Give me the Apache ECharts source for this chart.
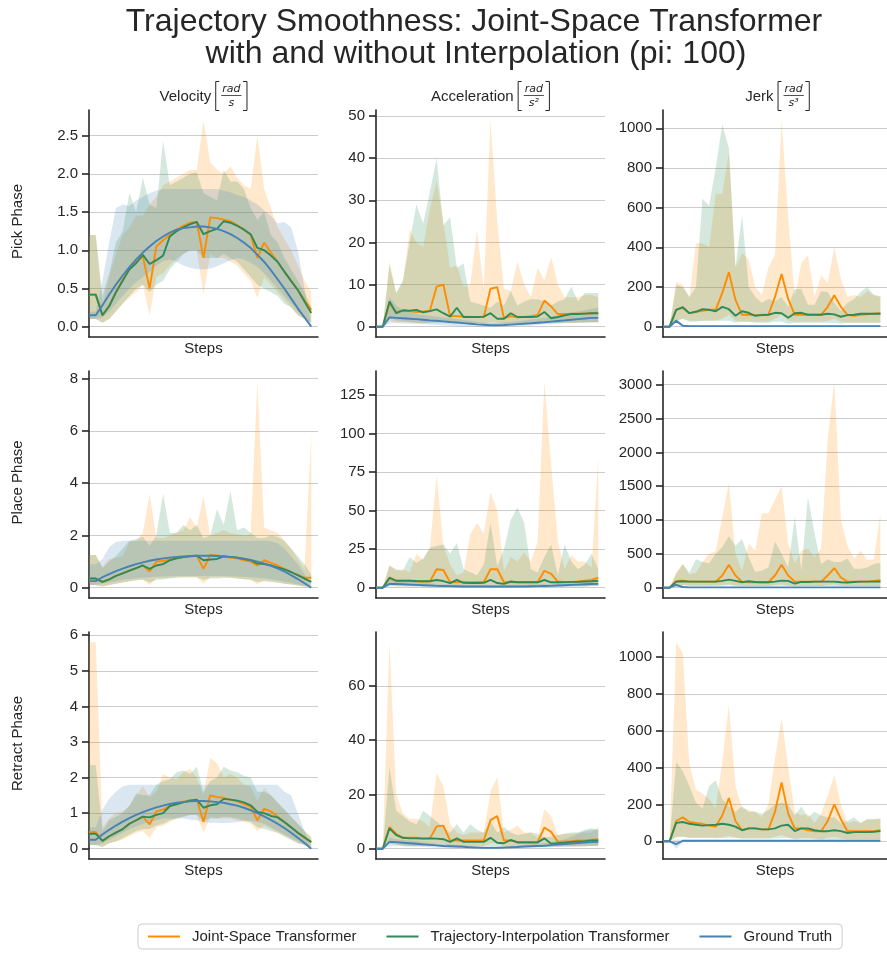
<!DOCTYPE html>
<html><head><meta charset="utf-8">
<script src="https://cdn.jsdelivr.net/npm/echarts@6/dist/echarts.min.js"></script>
<style>html,body{margin:0;padding:0;background:#fff}#c{width:887px;height:954px}</style>
</head><body><div id="c"></div>
<script>
// ---------------- DATA ----------------
const methodNames = ['Joint-Space Transformer', 'Trajectory-Interpolation Transformer', 'Ground Truth'];
const rowNames = ['Pick Phase', 'Place Phase', 'Retract Phase'];
const colNames = ['Velocity', 'Acceleration', 'Jerk'];
const colUnitNum = 'rad';
const colUnitDen = ['s', 's²', 's³'];
const stepCats = ['0','1','2','3','4','5','6','7','8','9','10','11','12','13','14','15','16','17','18','19','20','21','22','23','24','25','26','27','28','29','30','31','32','33','34'];

// Pick - velocity
const velPickJS   = [0.42,0.42,0.15,0.27,0.45,0.62,0.75,0.85,0.92,0.50,1.05,1.13,1.20,1.27,1.32,1.36,1.37,0.90,1.43,1.42,1.40,1.38,1.33,1.27,1.20,0.90,1.10,0.97,0.85,0.72,0.60,0.48,0.35,0.22];
const velPickJSHi = [1.20,1.20,0.30,0.65,0.95,1.20,1.30,1.45,1.45,1.60,1.70,1.85,1.90,1.95,2.00,2.05,2.05,2.70,2.15,2.05,2.00,2.10,1.95,1.85,1.80,2.50,1.80,1.55,1.30,1.15,1.00,0.80,0.60,0.45];
const velPickJSLo = [0.10,0.10,0.05,0.10,0.20,0.30,0.38,0.45,0.55,0.15,0.65,0.70,0.80,0.90,0.95,1.00,1.00,0.42,0.95,0.90,0.90,0.85,0.80,0.70,0.60,0.38,0.65,0.55,0.45,0.35,0.25,0.15,0.10,0.05];
const velPickTI   = [0.42,0.42,0.15,0.27,0.45,0.60,0.75,0.83,0.94,0.82,0.87,0.93,1.18,1.25,1.30,1.34,1.37,1.21,1.25,1.28,1.38,1.36,1.32,1.27,1.21,1.03,1.00,0.93,0.85,0.72,0.60,0.48,0.33,0.18];
const velPickTIHi = [1.20,1.20,0.40,0.70,1.10,1.25,1.75,1.50,1.95,1.60,1.55,2.43,1.85,1.90,1.95,2.00,2.02,1.75,1.70,1.65,2.05,1.90,1.90,1.80,1.55,1.40,1.50,1.20,1.10,0.90,0.75,0.60,0.45,0.25];
const velPickTILo = [0.10,0.10,0.05,0.10,0.20,0.30,0.40,0.50,0.55,0.45,0.55,0.60,0.75,0.85,0.95,1.00,1.00,0.90,0.90,0.90,0.95,0.90,0.85,0.75,0.65,0.55,0.50,0.45,0.40,0.30,0.25,0.15,0.10,0.05];
const velPickGT   = [0.15,0.15,0.28,0.42,0.55,0.67,0.78,0.88,0.97,1.05,1.12,1.18,1.23,1.27,1.29,1.30,1.31,1.31,1.30,1.28,1.25,1.21,1.16,1.10,1.03,0.94,0.85,0.74,0.62,0.50,0.37,0.24,0.12,0.00];
const velPickGTHi = [0.20,0.20,0.60,1.10,1.55,1.60,1.58,1.65,1.70,1.75,1.78,1.80,1.80,1.80,1.80,1.80,1.80,1.80,1.80,1.80,1.78,1.76,1.72,1.70,1.65,1.60,1.52,1.45,1.35,1.37,1.30,1.00,0.50,0.00];
const velPickGTLo = [0.10,0.10,0.12,0.20,0.30,0.40,0.50,0.58,0.65,0.72,0.80,0.86,0.88,0.85,0.80,0.77,0.75,0.75,0.76,0.79,0.83,0.87,0.90,0.88,0.84,0.78,0.70,0.60,0.50,0.40,0.30,0.20,0.10,0.00];

// Pick - acceleration
const accPickJS   = [0,0,5.5,3.5,3.8,3.7,3.5,3.6,3.8,9.5,10.0,2.5,2.5,2.4,2.3,2.3,2.3,9.0,9.4,2.0,2.5,2.2,2.3,2.5,2.8,6.2,4.8,3.0,3.0,3.1,3.1,3.1,3.2,3.3];
const accPickJSHi = [0,0,15.5,8,10.5,23,20,19,28,34.5,25,14,14.5,9.5,10,23,9,49,25,9,8.5,15.5,10,7,14,11,16.5,10,7,7,7,7.5,7.5,7];
const accPickJSLo = [0,0,1.5,1,1,1,0.8,0.8,1,1.2,1.5,0.8,0.8,0.8,0.8,0.8,0.8,1,1,0.6,0.8,0.8,0.8,0.8,0.8,1,1.2,0.9,0.9,0.9,0.9,1,1,1];
const accPickTI   = [0,0,6.0,3.2,3.9,3.8,4.0,3.4,3.7,4.1,3.2,2.4,4.5,2.3,2.3,2.3,2.4,3.2,1.9,1.9,3.2,2.3,2.3,2.3,2.4,3.5,2.0,2.3,2.7,3.0,3.0,3.1,3.2,3.2];
const accPickTIHi = [0,0,14.5,8,11,20,29,24.5,32,40,24,26,14,15,6,5.5,5,4.5,6,5,8.5,5,6,6.5,6.5,6,5,6,6.5,9.5,6,8,8,8];
const accPickTILo = [0,0,2,1.5,1.3,1.2,1,0.9,0.9,0.9,0.9,0.8,0.8,0.8,0.7,0.7,0.7,0.7,0.6,0.6,0.6,0.7,0.7,0.8,0.8,0.8,0.8,0.9,1,1,1,1,1,1];
const accPickGT   = [0,0,2.2,2.1,2.0,1.9,1.8,1.65,1.5,1.4,1.25,1.1,1.0,0.85,0.7,0.55,0.45,0.35,0.35,0.4,0.5,0.6,0.7,0.8,0.95,1.05,1.2,1.35,1.5,1.65,1.8,1.95,2.1,2.1];
const accPickGTHi = [0,0,7,5,4,3.5,3,2.8,2.6,2.4,2.2,2,1.8,1.6,1.4,1.2,1,0.9,0.9,1,1.1,1.3,1.5,1.7,1.9,2.1,2.4,2.7,3,3.3,3.6,3.9,4.2,4.5];
const accPickGTLo = [0,0,0.8,0.8,0.8,0.7,0.7,0.6,0.5,0.4,0.3,0.2,0.1,0.1,0.1,0.05,0.05,0.05,0.05,0.05,0.1,0.1,0.2,0.3,0.4,0.5,0.6,0.7,0.8,0.9,1.0,1.0,1.1,1.1];

// Pick - jerk
const jerkPickJS   = [0,0,85,95,68,75,80,85,85,170,275,135,60,60,58,60,60,150,265,140,60,60,60,60,60,100,158,100,60,55,60,62,65,68];
const jerkPickJSHi = [0,0,225,210,150,420,420,400,670,670,880,300,370,340,200,160,300,360,1040,550,150,320,360,150,260,220,400,240,150,160,150,180,160,150];
const jerkPickJSLo = [0,0,30,40,30,30,30,30,30,40,60,30,25,25,25,25,25,40,60,30,25,25,25,25,25,30,40,25,20,20,20,20,20,20];
const jerkPickTI   = [0,0,85,98,68,75,88,85,78,100,88,55,78,70,55,58,60,70,68,45,68,70,60,60,60,65,62,50,58,60,65,65,65,65];
const jerkPickTIHi = [0,0,210,200,150,200,645,610,800,1020,900,300,560,200,150,120,140,130,150,100,190,190,110,110,180,175,120,80,120,140,175,200,160,155];
const jerkPickTILo = [0,0,30,40,25,25,30,30,30,30,30,20,25,25,20,20,20,25,25,15,20,20,20,20,20,20,20,15,20,20,20,20,20,20];
const jerkPickGT   = [0,0,30,5,3,3,3,3,3,3,3,3,3,3,3,3,3,3,3,3,3,3,3,3,3,3,3,3,3,3,3,3,3,3];
const jerkPickGTHi = [0,0,40,12,6,6,6,6,6,6,6,6,6,6,6,6,6,6,6,6,6,6,6,6,6,6,6,6,6,6,6,6,6,6];
const jerkPickGTLo = [0,0,20,0,0,0,0,0,0,0,0,0,0,0,0,0,0,0,0,0,0,0,0,0,0,0,0,0,0,0,0,0,0,0];

// Place - velocity
const velPlaceJS   = [0.35,0.35,0.22,0.32,0.45,0.55,0.65,0.75,0.85,0.62,1.00,1.02,1.08,1.12,1.17,1.20,1.22,0.72,1.25,1.23,1.20,1.15,1.12,1.05,1.00,0.85,1.05,0.95,0.85,0.72,0.60,0.48,0.38,0.38];
const velPlaceJSHi = [1.25,1.25,0.80,1.10,1.15,1.20,1.75,1.80,2.10,3.60,1.90,1.90,2.00,2.10,2.20,2.70,2.30,3.50,2.00,2.10,2.20,2.10,2.05,2.00,2.05,7.90,2.30,2.20,2.10,1.80,1.50,1.10,0.70,5.90];
const velPlaceJSLo = [0.10,0.10,0.05,0.10,0.15,0.20,0.25,0.28,0.30,0.10,0.35,0.35,0.38,0.40,0.40,0.40,0.40,0.15,0.40,0.40,0.40,0.38,0.35,0.32,0.30,0.12,0.28,0.25,0.20,0.15,0.12,0.08,0.05,0.05];
const velPlaceTI   = [0.35,0.35,0.22,0.32,0.45,0.55,0.65,0.75,0.85,0.72,0.85,0.90,1.05,1.12,1.17,1.20,1.22,1.05,1.08,1.10,1.20,1.18,1.15,1.10,1.05,0.92,0.90,0.85,0.78,0.70,0.60,0.48,0.35,0.22];
const velPlaceTIHi = [1.25,1.25,0.75,1.00,1.20,1.50,1.80,1.85,1.95,1.60,2.00,3.60,2.10,2.10,2.40,2.20,2.40,1.90,2.00,3.00,2.40,3.70,2.20,2.30,2.10,1.90,1.90,2.00,1.95,1.80,1.50,1.20,0.90,0.50];
const velPlaceTILo = [0.10,0.10,0.05,0.10,0.15,0.20,0.25,0.28,0.30,0.20,0.30,0.32,0.35,0.38,0.40,0.40,0.40,0.30,0.35,0.35,0.38,0.38,0.35,0.32,0.30,0.22,0.25,0.22,0.20,0.15,0.12,0.08,0.05,0.05];
const velPlaceGT   = [0.25,0.25,0.40,0.52,0.63,0.73,0.82,0.90,0.97,1.03,1.08,1.12,1.15,1.18,1.20,1.21,1.22,1.22,1.22,1.21,1.20,1.18,1.15,1.11,1.06,1.00,0.93,0.84,0.74,0.62,0.48,0.33,0.17,0.00];
const velPlaceGTHi = [0.90,0.90,1.10,1.55,1.75,1.80,1.80,1.80,1.80,1.80,1.80,1.80,1.80,1.80,1.80,1.80,1.80,1.80,1.80,1.80,1.80,1.80,1.80,1.80,1.80,1.80,1.80,1.78,1.70,1.50,1.20,0.90,0.50,0.00];
const velPlaceGTLo = [0.10,0.10,0.15,0.20,0.25,0.30,0.33,0.36,0.38,0.40,0.42,0.43,0.44,0.45,0.45,0.45,0.45,0.45,0.45,0.45,0.45,0.44,0.43,0.42,0.40,0.38,0.35,0.32,0.28,0.23,0.18,0.12,0.06,0.00];

// Place - acceleration
const accPlaceJS   = [0,0,6,4.5,4.5,4.5,4,4,4,12,11.5,3.5,3.5,3.5,3.5,3.5,3.5,12,12,3.5,3.5,3.5,3.5,3.5,3.5,11,9,4,3.8,3.8,4,4.5,5,6.5];
const accPlaceJSHi = [0,0,15,11,12,10,22,18,26,73,27,15,8,10,35,42,35,62,50,11,20,17,23,17,30,134,80,30,12,21,17,17,13,85];
const accPlaceJSLo = [0,0,1.5,1,1,1,1,1,1,2,2,1,1,1,1,1,1,2,2,1,1,1,1,1,1,2,2,1,1,1,1,1,1.5,1.5];
const accPlaceTI   = [0,0,6.5,4.5,4.5,4.5,4.3,4.2,4.2,5.0,4.3,3.0,5.0,3.2,3.0,3.0,3.2,5.0,3.0,2.5,4.0,3.5,3.5,3.5,3.5,5.0,3.5,3.5,3.6,3.8,3.8,4.0,4.2,4.5];
const accPlaceTIHi = [0,0,14,12,11,20,16,19,26,27,28,22,29,12,10,8,15,42,14,25,44,52,42,12,10,20,28,8,28,17,12,15,22,12];
const accPlaceTILo = [0,0,2,1.5,1.5,1.2,1.2,1.2,1.2,1.2,1.2,1,1,1,1,1,1,1,1,1,1,1,1,1,1,1,1,1,1,1,1,1,1.2,1.2];
const accPlaceGT   = [0,0,2.5,2.4,2.2,2.0,1.8,1.6,1.4,1.2,1.1,1.0,0.9,0.8,0.8,0.8,0.8,0.8,0.8,0.8,0.8,0.8,0.8,0.9,1.0,1.1,1.2,1.4,1.6,1.8,2.0,2.2,2.4,2.5];
const accPlaceGTHi = [0,0,6,5,4.5,4,3.5,3,2.8,2.5,2.3,2.1,2,1.9,1.9,1.9,1.9,1.9,1.9,1.9,1.9,1.9,1.9,2,2.2,2.4,2.6,2.9,3.2,3.5,3.9,4.3,4.7,5];
const accPlaceGTLo = [0,0,0.8,0.8,0.7,0.6,0.5,0.4,0.3,0.2,0.2,0.1,0.1,0.1,0.1,0.1,0.1,0.1,0.1,0.1,0.1,0.1,0.1,0.1,0.2,0.2,0.3,0.4,0.5,0.6,0.7,0.8,0.9,1.0];

// Place - jerk
const jerkPlaceJS   = [0,0,95,105,90,90,90,90,90,180,340,180,90,80,80,80,80,180,340,180,90,90,90,90,90,180,290,150,90,90,90,90,100,110];
const jerkPlaceJSHi = [0,0,230,350,200,220,380,500,540,1050,1550,500,250,650,550,1100,1100,1300,1500,650,360,550,580,450,580,2200,3050,1000,620,430,550,410,420,1100];
const jerkPlaceJSLo = [0,0,30,40,30,30,30,30,30,40,50,30,25,25,25,25,25,40,50,30,25,25,25,25,25,40,50,30,25,25,25,25,25,30];
const jerkPlaceTI   = [0,0,90,95,90,90,90,90,90,100,120,100,80,95,85,80,80,90,105,100,60,85,85,90,90,90,90,80,75,85,90,90,90,90];
const jerkPlaceTIHi = [0,0,200,350,220,420,380,360,500,600,760,620,720,450,230,250,300,680,500,300,1050,250,1340,800,350,420,380,380,430,280,280,300,350,370];
const jerkPlaceTILo = [0,0,30,35,30,30,30,30,30,30,35,30,25,25,25,25,25,30,30,25,20,25,25,25,25,25,25,25,20,25,25,25,25,25];
const jerkPlaceGT   = [0,0,40,10,5,4,4,4,4,4,4,4,4,4,4,4,4,4,4,4,4,4,4,4,4,4,4,4,4,4,4,4,4,4];
const jerkPlaceGTHi = [0,0,60,20,10,8,8,8,8,8,8,8,8,8,8,8,8,8,8,8,8,8,8,8,8,8,8,8,8,8,8,8,8,8];
const jerkPlaceGTLo = [0,0,20,0,0,0,0,0,0,0,0,0,0,0,0,0,0,0,0,0,0,0,0,0,0,0,0,0,0,0,0,0,0,0];

// Retract - velocity
const velRetractJS   = [0.47,0.47,0.22,0.35,0.45,0.55,0.70,0.80,0.90,0.68,1.05,1.10,1.20,1.27,1.32,1.36,1.38,0.75,1.50,1.45,1.43,1.38,1.33,1.25,1.18,0.80,1.12,1.05,0.90,0.75,0.60,0.45,0.30,0.20];
const velRetractJSHi = [5.80,5.80,0.60,0.85,1.00,1.05,1.20,1.50,1.75,1.45,1.60,2.10,2.00,1.95,2.15,2.25,2.00,1.50,2.55,2.40,2.00,2.10,2.00,1.80,1.75,1.35,1.70,1.50,1.30,1.10,0.90,0.70,0.50,0.35];
const velRetractJSLo = [0.10,0.10,0.05,0.15,0.20,0.25,0.35,0.45,0.50,0.30,0.60,0.65,0.75,0.85,0.90,0.95,0.95,0.45,0.90,0.85,0.85,0.85,0.80,0.75,0.70,0.50,0.65,0.55,0.45,0.35,0.25,0.15,0.10,0.05];
const velRetractTI   = [0.42,0.42,0.22,0.35,0.45,0.55,0.70,0.80,0.90,0.88,0.95,1.00,1.20,1.25,1.30,1.35,1.38,1.15,1.22,1.25,1.40,1.38,1.35,1.30,1.22,1.03,1.00,0.92,0.88,0.75,0.60,0.45,0.32,0.18];
const velRetractTIHi = [2.35,2.35,0.50,0.80,0.90,1.00,1.20,1.55,1.50,1.50,1.80,1.90,1.95,2.15,2.20,2.10,2.30,1.60,1.90,2.00,2.30,2.20,2.15,2.05,2.00,1.60,1.60,1.50,1.30,1.10,0.90,0.70,0.50,0.30];
const velRetractTILo = [0.10,0.10,0.05,0.15,0.20,0.30,0.40,0.50,0.55,0.55,0.65,0.70,0.80,0.85,0.90,0.95,0.95,0.80,0.85,0.85,0.90,0.88,0.85,0.80,0.75,0.60,0.55,0.50,0.45,0.35,0.25,0.15,0.10,0.05];
const velRetractGT   = [0.25,0.25,0.40,0.53,0.65,0.76,0.86,0.95,1.03,1.10,1.16,1.21,1.26,1.29,1.31,1.33,1.34,1.34,1.33,1.31,1.29,1.25,1.21,1.15,1.08,1.00,0.91,0.81,0.70,0.58,0.45,0.31,0.16,0.00];
const velRetractGTHi = [0.60,0.60,1.10,1.40,1.60,1.75,1.80,1.80,1.80,1.80,1.80,1.80,1.80,1.80,1.80,1.80,1.80,1.80,1.80,1.80,1.80,1.80,1.80,1.80,1.80,1.80,1.80,1.80,1.80,1.60,1.50,1.00,0.50,0.00];
const velRetractGTLo = [0.10,0.10,0.15,0.25,0.35,0.45,0.55,0.62,0.70,0.75,0.80,0.85,0.85,0.85,0.85,0.82,0.80,0.75,0.73,0.72,0.72,0.73,0.75,0.78,0.78,0.75,0.70,0.60,0.50,0.40,0.30,0.20,0.10,0.00];

// Retract - acceleration
const accRetractJS   = [0,0,8,5.5,4,4,4,3.8,3.8,8.2,8.5,3,3,3,3,3,3,10.5,12,3,3,2.5,2.5,2.5,2.5,7.8,6.2,2.5,2.7,2.8,3,3,3.2,3.5];
const accRetractJSHi = [0,0,76,20,13,11,11,10,8,28,23,9,6,5,6,6,6,21,26.5,6,7,8.5,6,6,4,14.5,12,5,5.5,5.5,6,6,6,8];
const accRetractJSLo = [0,0,2,1.5,1.2,1,1,1,1,2,2,1,0.8,0.8,0.8,0.8,0.8,2,2,0.8,0.8,0.8,0.8,0.8,0.8,1.5,1.5,0.8,0.8,0.8,0.8,0.8,1,1];
const accRetractTI   = [0,0,7.5,5,4,3.8,3.8,3.7,3.8,3.7,3.5,2.5,3.8,2.5,2.5,2.5,2.5,4,2.2,2.0,3.2,2.3,2.3,2.3,2.3,3.8,1.8,2,2.2,2.5,2.7,2.8,3,3];
const accRetractTIHi = [0,0,30,14,12,10,9,14,12,10,8,6,9,6,9,7,6,10,6,8,6,5,5.5,6,5.5,4,4.5,5,5.5,6,6,7,7.5,7];
const accRetractTILo = [0,0,2,1.5,1.2,1,1,1,1,1,0.8,0.8,0.8,0.8,0.8,0.8,0.8,0.8,0.7,0.7,0.7,0.7,0.7,0.7,0.7,0.7,0.7,0.8,0.8,0.8,0.8,0.9,1,1];
const accRetractGT   = [0,0,2.5,2.4,2.2,2.0,1.8,1.6,1.4,1.2,1.0,0.9,0.8,0.7,0.5,0.4,0.3,0.3,0.3,0.4,0.5,0.6,0.8,0.9,1.0,1.1,1.3,1.5,1.7,1.9,2.1,2.3,2.4,2.5];
const accRetractGTHi = [0,0,4,3.5,3.2,3,2.8,2.5,2.2,2,1.8,1.6,1.4,1.2,1,0.9,0.8,0.8,0.8,0.9,1,1.2,1.4,1.6,1.8,2.1,2.5,3,3.5,4.5,5.5,6.5,7,7];
const accRetractGTLo = [0,0,1,1,0.9,0.8,0.7,0.6,0.5,0.4,0.3,0.2,0.1,0.1,0.1,0.05,0.05,0.05,0.05,0.05,0.1,0.1,0.2,0.3,0.4,0.5,0.6,0.7,0.8,0.9,1,1.1,1.2,1.2];

// Retract - jerk
const jerkRetractJS   = [0,0,110,130,105,100,95,85,80,140,235,110,60,70,70,65,65,160,320,150,70,70,60,55,55,110,200,120,55,55,55,55,55,60];
const jerkRetractJSHi = [0,0,1080,1020,420,280,260,230,180,430,740,300,180,170,160,130,200,450,670,400,160,140,150,100,150,250,360,200,100,110,100,120,120,120];
const jerkRetractJSLo = [0,0,20,25,20,20,20,20,15,20,30,20,15,15,15,15,15,25,35,20,15,15,15,10,10,20,25,15,10,10,10,10,10,10];
const jerkRetractTI   = [0,0,100,105,95,90,85,88,90,95,90,80,60,70,70,65,65,70,85,90,55,70,70,60,55,55,60,55,45,50,50,50,52,55];
const jerkRetractTIHi = [0,0,430,380,300,210,180,300,330,230,190,160,190,160,160,150,170,200,210,200,140,190,130,160,140,130,130,100,110,130,100,120,120,125];
const jerkRetractTILo = [0,0,25,25,20,20,20,20,20,20,20,20,15,15,15,15,15,15,20,20,10,15,15,15,10,10,10,10,10,10,10,10,10,10];
const jerkRetractGT   = [0,0,-15,3,3,3,3,3,3,3,3,3,3,3,3,3,3,3,3,3,3,3,3,3,3,3,3,3,3,3,3,3,3,3];
const jerkRetractGTHi = [0,0,10,8,6,6,6,6,6,6,6,6,6,6,6,6,6,6,6,6,6,6,6,6,6,6,6,6,6,6,6,6,6,6];
const jerkRetractGTLo = [0,0,-40,-5,0,0,0,0,0,0,0,0,0,0,0,0,0,0,0,0,0,0,0,0,0,0,0,0,0,0,0,0,0,0];

// y tick labels per panel (row-major)
const velPickTicks = ['0.0','0.5','1.0','1.5','2.0','2.5'];
const accPickTicks = ['0','10','20','30','40','50'];
const jerkPickTicks = ['0','200','400','600','800','1000'];
const velPlaceTicks = ['0','2','4','6','8'];
const accPlaceTicks = ['0','25','50','75','100','125'];
const jerkPlaceTicks = ['0','500','1000','1500','2000','2500','3000'];
const velRetractTicks = ['0','1','2','3','4','5','6'];
const accRetractTicks = ['0','20','40','60'];
const jerkRetractTicks = ['0','200','400','600','800','1000'];

// ---------------- BUILD ----------------
const panels = [
  [velPickJS,velPickJSLo,velPickJSHi,velPickTI,velPickTILo,velPickTIHi,velPickGT,velPickGTLo,velPickGTHi,velPickTicks],
  [accPickJS,accPickJSLo,accPickJSHi,accPickTI,accPickTILo,accPickTIHi,accPickGT,accPickGTLo,accPickGTHi,accPickTicks],
  [jerkPickJS,jerkPickJSLo,jerkPickJSHi,jerkPickTI,jerkPickTILo,jerkPickTIHi,jerkPickGT,jerkPickGTLo,jerkPickGTHi,jerkPickTicks],
  [velPlaceJS,velPlaceJSLo,velPlaceJSHi,velPlaceTI,velPlaceTILo,velPlaceTIHi,velPlaceGT,velPlaceGTLo,velPlaceGTHi,velPlaceTicks],
  [accPlaceJS,accPlaceJSLo,accPlaceJSHi,accPlaceTI,accPlaceTILo,accPlaceTIHi,accPlaceGT,accPlaceGTLo,accPlaceGTHi,accPlaceTicks],
  [jerkPlaceJS,jerkPlaceJSLo,jerkPlaceJSHi,jerkPlaceTI,jerkPlaceTILo,jerkPlaceTIHi,jerkPlaceGT,jerkPlaceGTLo,jerkPlaceGTHi,jerkPlaceTicks],
  [velRetractJS,velRetractJSLo,velRetractJSHi,velRetractTI,velRetractTILo,velRetractTIHi,velRetractGT,velRetractGTLo,velRetractGTHi,velRetractTicks],
  [accRetractJS,accRetractJSLo,accRetractJSHi,accRetractTI,accRetractTILo,accRetractTIHi,accRetractGT,accRetractGTLo,accRetractGTHi,accRetractTicks],
  [jerkRetractJS,jerkRetractJSLo,jerkRetractJSHi,jerkRetractTI,jerkRetractTILo,jerkRetractTIHi,jerkRetractGT,jerkRetractGTLo,jerkRetractGTHi,jerkRetractTicks]
];

const FONT = "'Liberation Sans', Arial, Helvetica, sans-serif";
const INK = '#262626';
const lineColors = ['#ff8c00', '#2e8b57', '#4682b4'];
const bandColors = ['rgba(255,140,0,0.2)', 'rgba(46,139,87,0.2)', 'rgba(70,130,180,0.2)'];
const colLeft = [89, 376, 663];
const rowTop = [110, 371, 632];
const PW = 229, PH = 227;

const grids = [], xAxes = [], yAxes = [], series = [];
panels.forEach((p, k) => {
  const r = Math.floor(k / 3), c = k % 3;
  grids.push({ left: colLeft[c], top: rowTop[r], width: PW, height: PH });
  xAxes.push({
    type: 'category', gridIndex: k, data: stepCats, boundaryGap: false,
    axisLine: { show: true, onZero: false, lineStyle: { color: INK, width: 1.6 } },
    axisTick: { show: false }, axisLabel: { show: false }, splitLine: { show: false },
    name: 'Steps', nameLocation: 'middle', nameGap: 4,
    nameTextStyle: { fontSize: 15, color: INK, fontFamily: FONT, verticalAlign: 'top' }
  });
  const all = [].concat(p[0], p[1], p[2], p[3], p[4], p[5], p[6], p[7], p[8]);
  const dmin = Math.min(...all), dmax = Math.max(...all);
  const span = dmax - dmin;
  const tickLabels = p[9];
  const tickVals = tickLabels.map(Number);
  yAxes.push({
    type: 'value', gridIndex: k, min: dmin - 0.05 * span, max: dmax + 0.05 * span,
    axisLine: { show: true, onZero: false, lineStyle: { color: INK, width: 1.6 } },
    axisTick: { show: true, length: 7, customValues: tickVals, lineStyle: { color: INK, width: 1.6 } },
    axisLabel: {
      customValues: tickVals, fontSize: 15, color: INK, fontFamily: FONT, margin: 11,
      formatter: v => { const i = tickVals.findIndex(t => Math.abs(t - v) < 1e-9); return i >= 0 ? tickLabels[i] : ''; }
    },
    splitLine: { show: true, lineStyle: { color: '#cccccc', width: 1 } }
  });
  for (let m = 0; m < 3; m++) {
    const mean = p[m * 3], lo = p[m * 3 + 1], hi = p[m * 3 + 2];
    series.push({
      type: 'line', name: methodNames[m], xAxisIndex: k, yAxisIndex: k, data: mean,
      symbol: 'none', lineStyle: { color: lineColors[m], width: 1.9 }, itemStyle: { color: lineColors[m] },
      z: 2, silent: true
    });
    const stackId = 'band' + k + '_' + m;
    series.push({
      type: 'line', name: 'lo' + k + m, xAxisIndex: k, yAxisIndex: k, data: lo,
      stack: stackId, stackStrategy: 'all', symbol: 'none', lineStyle: { opacity: 0, width: 0 }, z: 2, silent: true
    });
    series.push({
      type: 'line', name: 'band' + k + m, xAxisIndex: k, yAxisIndex: k, data: hi.map((h, i) => h - lo[i]),
      stack: stackId, stackStrategy: 'all', symbol: 'none', lineStyle: { opacity: 0, width: 0 },
      areaStyle: { color: bandColors[m], opacity: 1 }, z: 2, silent: true
    });
  }
});

// text measuring for column titles
const mctx = document.createElement('canvas').getContext('2d');
function tw(t, f) { mctx.font = f; return mctx.measureText(t).width; }

const graphics = [];
graphics.push({ type: 'text', x: 474, y: 22, style: { text: 'Trajectory Smoothness: Joint-Space Transformer', font: `32px ${FONT}`, fill: INK, textAlign: 'center', textVerticalAlign: 'middle' } });
graphics.push({ type: 'text', x: 476, y: 54, style: { text: 'with and without Interpolation (pi: 100)', font: `32px ${FONT}`, fill: INK, textAlign: 'center', textVerticalAlign: 'middle' } });

rowNames.forEach((nm, r) => {
  graphics.push({ type: 'text', x: 18, y: rowTop[r] + PH / 2 - 2, rotation: Math.PI / 2,
    style: { text: nm, font: `15px ${FONT}`, fill: INK, textAlign: 'center', textVerticalAlign: 'middle' } });
});

const labFont = `15px ${FONT}`;
const fracFont = `italic 11px 'DejaVu Sans', sans-serif`;
colNames.forEach((nm, c) => {
  const cx = colLeft[c] + PW / 2;
  const lw = tw(nm, labFont);
  const fw = Math.max(tw(colUnitNum, fracFont), tw(colUnitDen[c], fracFont));
  const total = lw + 4 + 4 + 3 + fw + 3 + 4;
  let x = cx - total / 2;
  graphics.push({ type: 'text', x: x, y: 97, style: { text: nm, font: labFont, fill: INK, textAlign: 'left', textVerticalAlign: 'middle' } });
  x += lw + 4;
  graphics.push({ type: 'polyline', shape: { points: [[x + 4, 81.5], [x + 0.5, 81.5], [x + 0.5, 110.5], [x + 4, 110.5]] }, style: { stroke: INK, lineWidth: 1, fill: null } });
  x += 4 + 3;
  const fcx = x + fw / 2;
  graphics.push({ type: 'text', x: fcx, y: 89, style: { text: colUnitNum, font: fracFont, fill: INK, textAlign: 'center', textVerticalAlign: 'middle' } });
  graphics.push({ type: 'line', shape: { x1: x - 1, y1: 95.5, x2: x + fw + 1, y2: 95.5 }, style: { stroke: INK, lineWidth: 0.8 } });
  graphics.push({ type: 'text', x: fcx, y: 103, style: { text: colUnitDen[c], font: fracFont, fill: INK, textAlign: 'center', textVerticalAlign: 'middle' } });
  x += fw + 3;
  graphics.push({ type: 'polyline', shape: { points: [[x - 0.5, 81.5], [x + 3.5, 81.5], [x + 3.5, 110.5], [x - 0.5, 110.5]] }, style: { stroke: INK, lineWidth: 1, fill: null } });
});

const chart = echarts.init(document.getElementById('c'), null, { renderer: 'canvas' });
chart.setOption({
  animation: false,
  backgroundColor: '#ffffff',
  grid: grids, xAxis: xAxes, yAxis: yAxes, series: series,
  legend: {
    data: methodNames, left: 138, top: 924, icon: 'rect', itemWidth: 32, itemHeight: 2, itemGap: 30,
    padding: [5, 10], borderColor: '#cccccc', borderWidth: 1, borderRadius: 4,
    textStyle: { fontSize: 15, color: INK, fontFamily: FONT, padding: [0, 0, 0, 7] }
  },
  graphic: graphics
});
</script></body></html>
